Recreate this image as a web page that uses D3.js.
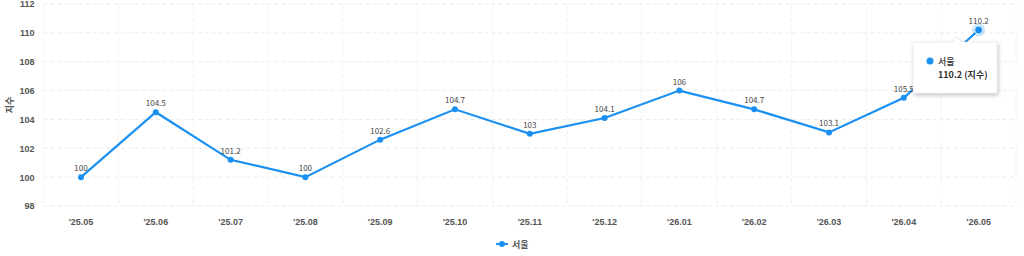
<!DOCTYPE html>
<html><head><meta charset="utf-8">
<script src="https://cdn.jsdelivr.net/npm/d3@7"></script>
<style>
body{margin:0;background:#fff;}
svg{display:block;font-family:"Malgun Gothic","Noto Sans CJK KR","Noto Sans",sans-serif;}
</style></head>
<body>
<svg id="chart" width="1024" height="256"></svg>
<script>
const categories = ["'25.05","'25.06","'25.07","'25.08","'25.09","'25.10","'25.11","'25.12","'26.01","'26.02","'26.03","'26.04","'26.05"];
const seriesName = "서울";
const values = [100,104.5,101.2,100,102.6,104.7,103,104.1,106,104.7,103.1,105.5,110.2];
const yTicks = [98,100,102,104,106,108,110,112];
const yTitle = "지수";
const unit = "지수";

(function(){
const svg = d3.select("#chart");
const color = "#1a90f2";
const pl = 43.6, pr = 1016, pt = 4, pb = 206;

const x = d3.scaleBand().domain(categories).range([pl, pr]);
const y = d3.scaleLinear().domain([98,112]).range([pb, pt]);

// grid
const g = svg.append("g");
g.selectAll(".hg").data(yTicks).join("line")
  .attr("x1", pl).attr("x2", pr)
  .attr("y1", d=>y(d)).attr("y2", d=>y(d))
  .attr("stroke", "#ebebeb").attr("stroke-dasharray","4,3");
const vb = categories.map(c=>x(c)).concat([pr]);
g.selectAll(".vg").data(vb).join("line")
  .attr("x1", d=>d).attr("x2", d=>d)
  .attr("y1", pt).attr("y2", pb)
  .attr("stroke", "#f1f1f1").attr("stroke-dasharray","4,3");

// y axis
const ya = svg.append("g").attr("transform",`translate(${pl-6},0)`)
  .call(d3.axisLeft(y).tickValues(yTicks).tickSize(0).tickPadding(3));
ya.select(".domain").remove();
ya.selectAll("text").attr("font-size", 9).attr("font-weight","bold").attr("fill","#555")
  .attr("font-family","inherit");

svg.append("text").attr("transform",`translate(13,${(pt+pb)/2}) rotate(-90)`)
  .attr("text-anchor","middle").attr("font-size",9).attr("fill","#555").attr("font-weight","bold").text(yTitle);

// x axis
const xa = svg.append("g").attr("transform",`translate(0,${pb+10})`)
  .call(d3.axisBottom(x).tickSize(0).tickPadding(3));
xa.select(".domain").remove();
xa.selectAll("text").attr("font-size", 9).attr("font-weight","bold").attr("fill","#555")
  .attr("font-family","inherit");

// line
const cx = (c)=>x(c)+x.bandwidth()/2;
const line = d3.line().x((d,i)=>cx(categories[i])).y(d=>y(d));
svg.append("path").datum(values).attr("d", line).attr("fill","none")
  .attr("stroke", color).attr("stroke-width", 2.2);

svg.selectAll(".pt").data(values).join("circle")
  .attr("cx",(d,i)=>cx(categories[i])).attr("cy", d=>y(d)).attr("r",3).attr("fill",color);

// highlighted last point
const li = values.length-1;
svg.append("circle").attr("cx",cx(categories[li])).attr("cy",y(values[li])).attr("r",6.5)
  .attr("fill",color).attr("fill-opacity",0.25);
svg.append("circle").attr("cx",cx(categories[li])).attr("cy",y(values[li])).attr("r",4)
  .attr("fill",color).attr("stroke","#fff").attr("stroke-width",0.8);

svg.selectAll(".lbl").data(values).join("text")
  .attr("x",(d,i)=>cx(categories[i])).attr("y", d=>y(d)-6)
  .attr("text-anchor","middle").attr("font-size",8).attr("fill","#444")
  .text(d=>d);

// legend
const lg = svg.append("g").attr("transform","translate(496,244)");
lg.append("line").attr("x1",0).attr("x2",12).attr("y1",0).attr("y2",0).attr("stroke",color).attr("stroke-width",2);
lg.append("circle").attr("cx",6).attr("cy",0).attr("r",3).attr("fill",color);
lg.append("text").attr("x",16).attr("y",3.5).attr("font-size",9).attr("font-weight","bold").attr("fill","#555").text(seriesName);

// tooltip
const tx = 913, ty = 42, tw = 84, th = 51;
const defs = svg.append("defs");
const f = defs.append("filter").attr("id","sh").attr("x","-20%").attr("y","-20%").attr("width","140%").attr("height","150%");
f.append("feDropShadow").attr("dx",1).attr("dy",2).attr("stdDeviation",2).attr("flood-color","#000").attr("flood-opacity",0.25);
const tt = svg.append("g");
const ax = 957;
tt.append("path")
  .attr("d",`M${tx},${ty} L${ax-5},${ty} L${ax},${ty-5} L${ax+5},${ty} L${tx+tw},${ty} L${tx+tw},${ty+th} L${tx},${ty+th} Z`)
  .attr("fill","#fff").attr("stroke","#ddd").attr("stroke-width",0.5).attr("filter","url(#sh)");
tt.append("circle").attr("cx",930).attr("cy",61).attr("r",3.5).attr("fill",color);
tt.append("text").attr("x",938).attr("y",64.5).attr("font-size",9).attr("font-weight",500).attr("fill","#333").text(seriesName);
tt.append("text").attr("x",938).attr("y",77.5).attr("font-size",9).attr("font-weight","bold").attr("fill","#333")
  .text(`${values[li]} (${unit})`);
})();
</script>
</body></html>
